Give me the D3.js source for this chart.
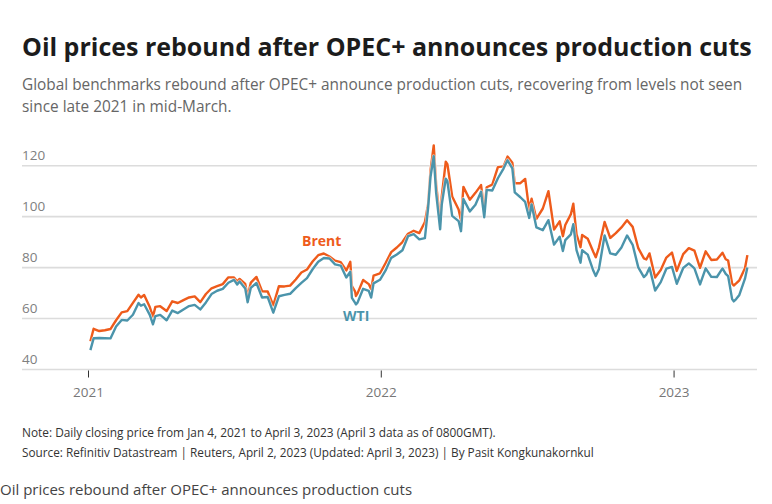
<!DOCTYPE html>
<html>
<head>
<meta charset="utf-8">
<script src="https://cdn.jsdelivr.net/npm/d3@7/dist/d3.min.js"></script>
<style>
  html, body { margin: 0; padding: 0; background: #fff; }
  svg { display: block; }
  text { font-family: "Open Sans", "Noto Sans", sans-serif; }
</style>
</head>
<body>
<svg id="chart" width="772" height="504"></svg>
<script>
// ---- Data (approximate weekly closes) ----
const dates = [
  "2021-01-04","2021-01-08","2021-01-15","2021-01-22","2021-01-29",
  "2021-02-05","2021-02-12","2021-02-19","2021-02-26",
  "2021-03-05","2021-03-08","2021-03-12","2021-03-19","2021-03-23","2021-03-26",
  "2021-04-01","2021-04-09","2021-04-16","2021-04-23","2021-04-30",
  "2021-05-07","2021-05-14","2021-05-21","2021-05-28",
  "2021-06-04","2021-06-11","2021-06-18","2021-06-25",
  "2021-07-02","2021-07-06","2021-07-09","2021-07-16","2021-07-19","2021-07-23","2021-07-30",
  "2021-08-06","2021-08-13","2021-08-20","2021-08-27",
  "2021-09-03","2021-09-10","2021-09-17","2021-09-24",
  "2021-10-01","2021-10-08","2021-10-15","2021-10-22","2021-10-29",
  "2021-11-05","2021-11-12","2021-11-19","2021-11-24","2021-11-26","2021-11-30",
  "2021-12-01","2021-12-03","2021-12-10","2021-12-17","2021-12-20","2021-12-23","2021-12-31",
  "2022-01-07","2022-01-14","2022-01-21","2022-01-28",
  "2022-02-04","2022-02-11","2022-02-18","2022-02-25",
  "2022-03-01","2022-03-04","2022-03-08","2022-03-11","2022-03-16","2022-03-18","2022-03-23","2022-03-25","2022-03-31",
  "2022-04-08","2022-04-11","2022-04-14","2022-04-22","2022-04-29",
  "2022-05-06","2022-05-10","2022-05-13","2022-05-20","2022-05-27",
  "2022-06-03","2022-06-08","2022-06-14","2022-06-17","2022-06-24","2022-06-30",
  "2022-07-05","2022-07-08","2022-07-14","2022-07-22","2022-07-29",
  "2022-08-05","2022-08-12","2022-08-16","2022-08-19","2022-08-26","2022-08-29",
  "2022-09-02","2022-09-07","2022-09-09","2022-09-16","2022-09-23","2022-09-26","2022-09-30",
  "2022-10-07","2022-10-14","2022-10-21","2022-10-28",
  "2022-11-04","2022-11-11","2022-11-18","2022-11-25","2022-11-28",
  "2022-12-02","2022-12-09","2022-12-16","2022-12-23","2022-12-30",
  "2023-01-05","2023-01-13","2023-01-20","2023-01-27",
  "2023-02-03","2023-02-10","2023-02-17","2023-02-24",
  "2023-03-03","2023-03-07","2023-03-10","2023-03-15","2023-03-17","2023-03-20","2023-03-24","2023-03-31",
  "2023-04-03"
];
const brent = [
  51.09,55.99,55.10,55.41,55.88,
  59.34,62.43,62.91,66.13,
  69.36,68.24,69.22,64.53,60.79,64.57,
  64.86,62.95,66.77,66.11,67.25,
  68.28,68.71,66.44,69.63,
  71.89,72.69,73.51,76.18,
  76.17,74.53,75.55,73.59,68.62,74.10,76.33,
  70.70,70.59,65.18,72.70,
  72.61,72.92,75.34,78.09,
  79.28,82.39,84.86,85.53,84.38,
  82.74,82.17,78.89,82.25,72.72,70.57,
  68.87,69.88,75.15,73.52,71.52,76.85,77.78,
  81.75,86.06,87.89,90.03,
  93.27,94.44,93.54,97.93,
  104.97,118.11,127.98,112.67,98.02,107.93,121.60,120.65,107.91,
  102.78,98.48,111.70,106.65,109.34,
  112.39,102.46,111.55,112.55,119.43,
  119.72,123.58,121.17,113.12,113.12,114.81,
  102.77,107.02,99.10,103.20,110.01,
  94.92,98.15,92.34,96.72,100.99,105.09,
  93.02,88.00,92.84,91.35,86.15,84.06,87.96,
  97.92,91.63,93.50,95.77,
  98.57,95.99,87.62,83.63,83.19,
  85.57,76.10,79.04,83.92,85.91,
  78.69,85.28,87.63,86.66,
  79.94,86.39,83.00,83.16,
  85.83,83.29,82.78,73.69,72.97,73.79,74.99,79.77,
  84.90
];
const wti = [
  47.62,52.24,52.36,52.27,52.20,
  56.85,59.47,59.24,61.50,
  66.09,65.05,65.61,61.42,57.76,60.97,
  61.45,59.32,63.13,62.14,63.58,
  64.90,65.37,63.58,66.32,
  69.62,70.91,71.64,74.05,
  75.16,73.37,74.56,71.81,66.42,72.07,73.95,
  68.28,68.44,62.32,68.74,
  69.29,69.72,71.97,73.98,
  75.88,79.35,82.28,83.76,83.57,
  81.27,80.79,76.10,78.39,68.15,66.18,
  65.57,66.26,71.67,70.86,68.23,73.79,75.21,
  78.90,83.82,85.14,86.82,
  92.31,93.10,91.07,91.59,
  103.41,115.68,123.70,109.33,95.04,104.70,114.93,113.90,100.28,
  98.26,94.29,106.95,102.07,104.69,
  109.77,99.76,110.49,110.28,115.07,
  118.87,122.11,118.93,109.56,107.62,105.76,
  99.50,104.79,95.78,94.70,98.62,
  89.01,92.09,86.53,90.77,93.06,97.01,
  86.87,81.94,86.79,85.11,78.74,76.71,79.49,
  92.64,85.61,85.05,87.90,
  92.61,88.96,80.08,76.28,77.24,
  79.98,71.02,74.29,79.56,80.26,
  73.67,79.86,81.64,79.68,
  73.39,79.72,76.34,76.32,
  79.68,77.58,76.68,67.61,66.74,67.64,69.26,75.67,
  80.00
];
const yTicks = [40, 60, 80, 100, 120];
const xTickLabels = ["2021", "2022", "2023"];

const title = "Oil prices rebound after OPEC+ announces production cuts";
const subtitle = [
  "Global benchmarks rebound after OPEC+ announce production cuts, recovering from levels not seen",
  "since late 2021 in mid-March."
];
const note = "Note: Daily closing price from Jan 4, 2021 to April 3, 2023 (April 3 data as of 0800GMT).";
const source = "Source: Refinitiv Datastream | Reuters, April 2, 2023 (Updated: April 3, 2023) | By Pasit Kongkunakornkul";
const caption = "Oil prices rebound after OPEC+ announces production cuts";

// ---- Drawing ----
const svg = d3.select("#chart");
const parse = d3.utcParse("%Y-%m-%d");

const x = d3.scaleUtc()
  .domain([parse("2021-01-01"), parse("2023-04-15")])
  .range([88, 757]);
const y = d3.scaleLinear().domain([40, 120]).range([369.5, 165.7]);

const ORANGE = "#ee5b1b";
const TEAL = "#4b94ab";

// shrink the font size so the natural width does not exceed the target width
function fit(sel, w) {
  const n = sel.node();
  const len = n.getComputedTextLength();
  if (len > w) {
    const fs = parseFloat(sel.attr("font-size"));
    sel.attr("font-size", (fs * w / len).toFixed(2));
  }
  return sel;
}

// Title & subtitle
fit(svg.append("text").attr("x", 22).attr("y", 56)
  .attr("font-size", 26).attr("font-weight", 700).attr("fill", "#1c1c1c")
  .text(title), 730);
const sub1 = fit(svg.append("text").attr("x", 22).attr("y", 90)
  .attr("font-size", 16.5).attr("fill", "#666").text(subtitle[0]), 721);
svg.append("text").attr("x", 22).attr("y", 112)
  .attr("font-size", sub1.attr("font-size")).attr("fill", "#666").text(subtitle[1]);

// Gridlines + y labels
const grid = svg.append("g");
yTicks.forEach(v => {
  grid.append("line")
    .attr("x1", 22).attr("x2", 757)
    .attr("y1", y(v)).attr("y2", y(v))
    .attr("stroke", "#dcdcdc").attr("stroke-width", 1.6);
  grid.append("text")
    .attr("x", 22).attr("y", y(v) - 6)
    .attr("font-size", 13.5).attr("fill", "#808080")
    .text(v);
});

// X axis ticks
const xAxis = d3.axisBottom(x)
  .tickValues(xTickLabels.map(t => parse(t + "-01-01")))
  .tickFormat(d3.utcFormat("%Y"))
  .tickSize(7)
  .tickPadding(10);
const gx = svg.append("g").attr("transform", `translate(0,${y(40) + 1})`).call(xAxis);
gx.select(".domain").remove();
gx.selectAll(".tick line").attr("stroke", "#333").attr("stroke-width", 1);
gx.selectAll(".tick text")
  .attr("font-family", '"Open Sans", "Noto Sans", sans-serif')
  .attr("font-size", 13.5).attr("fill", "#777");

// Lines
const pts = (vals) => dates.map((d, i) => ({ date: parse(d), v: vals[i] }));
const line = d3.line().x(d => x(d.date)).y(d => y(d.v)).curve(d3.curveLinear);

[[brent, ORANGE], [wti, TEAL]].forEach(([vals, col]) => {
  svg.append("path").datum(pts(vals))
    .attr("d", line).attr("fill", "none")
    .attr("stroke", "#fff").attr("stroke-width", 3.8)
    .attr("stroke-linejoin", "round").attr("opacity", 0.6);
  svg.append("path").datum(pts(vals))
    .attr("d", line).attr("fill", "none")
    .attr("stroke", col).attr("stroke-width", 2.4)
    .attr("stroke-linejoin", "round");
});

// Series labels
svg.append("text").attr("x", 302).attr("y", 246)
  .attr("font-size", 14).attr("font-weight", 700).attr("fill", ORANGE)
  .text("Brent");
svg.append("text").attr("x", 343).attr("y", 321)
  .attr("font-size", 14).attr("font-weight", 700).attr("fill", TEAL)
  .text("WTI");

// Footer
fit(svg.append("text").attr("x", 22).attr("y", 437)
  .attr("font-size", 12).attr("fill", "#333").text(note), 474);
fit(svg.append("text").attr("x", 22).attr("y", 457)
  .attr("font-size", 12).attr("fill", "#333").text(source), 572);
fit(svg.append("text").attr("x", 0).attr("y", 495)
  .attr("font-size", 15).attr("fill", "#444").text(caption), 432);
</script>
</body>
</html>
